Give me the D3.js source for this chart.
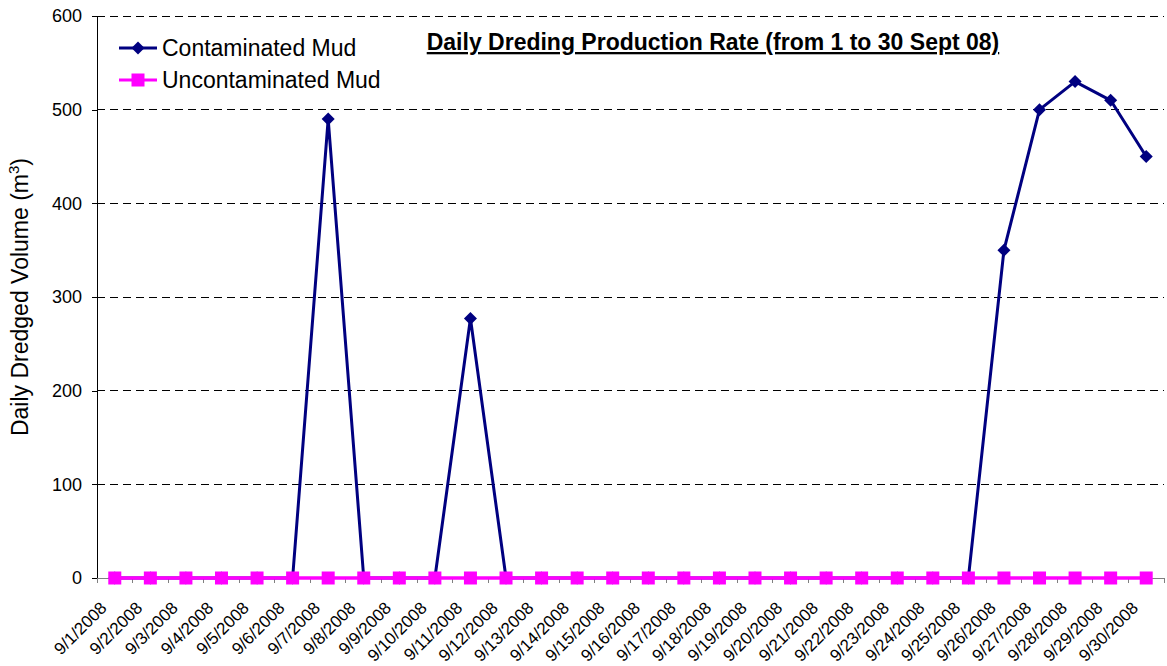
<!doctype html>
<html lang="en">
  <head>
    <title>Daily Dredging Production Rate</title>
    <style>
      body { margin: 0; background: #fff; }
      svg text { font-family: "Liberation Sans", Arial, sans-serif; }
    </style>
  </head>
  <body>
    <div id="chart"></div>
    <script src="https://cdn.jsdelivr.net/npm/d3@7"></script>
    <script>
      const dates = [
        '9/1/2008', '9/2/2008', '9/3/2008', '9/4/2008', '9/5/2008', '9/6/2008',
        '9/7/2008', '9/8/2008', '9/9/2008', '9/10/2008', '9/11/2008', '9/12/2008',
        '9/13/2008', '9/14/2008', '9/15/2008', '9/16/2008', '9/17/2008', '9/18/2008',
        '9/19/2008', '9/20/2008', '9/21/2008', '9/22/2008', '9/23/2008', '9/24/2008',
        '9/25/2008', '9/26/2008', '9/27/2008', '9/28/2008', '9/29/2008', '9/30/2008'
      ]
      const contaminated = [
        0, 0, 0, 0, 0, 0,
        490, 0, 0, 0, 277, 0,
        0, 0, 0, 0, 0, 0,
        0, 0, 0, 0, 0, 0,
        0, 350, 500, 530, 510, 450
      ]
      const uncontaminated = [
        0, 0, 0, 0, 0, 0, 0, 0, 0, 0, 0, 0, 0, 0, 0,
        0, 0, 0, 0, 0, 0, 0, 0, 0, 0, 0, 0, 0, 0, 0
      ]
      const yTicks = [0, 100, 200, 300, 400, 500, 600]

      const width = 1167
      const height = 666
      const margin = { top: 16, right: 3, bottom: 88, left: 97 }
      const font = '"Liberation Sans", Arial, sans-serif'

      const svg = d3.select('#chart')
        .append('svg')
          .attr('width', width)
          .attr('height', height)

      const x = d3.scaleBand()
        .domain(dates)
        .range([margin.left, width - margin.right])

      const y = d3.scaleLinear()
        .domain([0, 600])
        .range([height - margin.bottom, margin.top])

      const cx = d => x(d) + x.bandwidth() / 2

      // gridlines
      svg.append('g')
        .selectAll('line')
        .data(yTicks.filter(t => t > 0))
        .join('line')
          .attr('x1', margin.left)
          .attr('x2', width - margin.right)
          .attr('y1', d => y(d))
          .attr('y2', d => y(d))
          .attr('stroke', '#000')
          .attr('stroke-dasharray', '8,5')
          .attr('shape-rendering', 'crispEdges')

      // y axis
      const yAxis = svg.append('g')
        .attr('transform', `translate(${margin.left},0)`)
        .call(d3.axisLeft(y).tickValues(yTicks).tickSize(5).tickPadding(10))
      yAxis.select('.domain').attr('stroke', '#000').attr('shape-rendering', 'crispEdges')
      yAxis.selectAll('.tick line').attr('shape-rendering', 'crispEdges')
      yAxis.selectAll('text')
        .attr('font-size', 18)
        .attr('fill', '#000')
        .style('font-family', font)

      // x axis
      const xAxis = svg.append('g')
        .attr('transform', `translate(0,${y(0)})`)
        .call(d3.axisBottom(x).tickSize(0).tickPadding(0))
      xAxis.select('.domain').attr('stroke', '#808080').attr('shape-rendering', 'crispEdges')
      xAxis.selectAll('.tick text')
        .attr('font-size', 17)
        .attr('fill', '#000')
        .attr('text-anchor', 'end')
        .attr('dy', 0)
        .attr('transform', 'translate(-7,31) rotate(-45)')
        .style('font-family', font)

      // tick marks at band boundaries
      svg.append('g')
        .selectAll('line')
        .data(d3.range(dates.length + 1))
        .join('line')
          .attr('x1', i => margin.left + i * x.step())
          .attr('x2', i => margin.left + i * x.step())
          .attr('y1', y(0))
          .attr('y2', y(0) + 5)
          .attr('stroke', '#808080')
          .attr('shape-rendering', 'crispEdges')

      // y axis title
      const yTitle = svg.append('text')
        .attr('transform', `translate(28,${(margin.top + y(0)) / 2}) rotate(-90)`)
        .attr('text-anchor', 'middle')
        .attr('font-size', 23)
        .attr('fill', '#000')
      yTitle.append('tspan').text('Daily Dredged Volume (m')
      yTitle.append('tspan').attr('font-size', 15).attr('dy', -9).text('3')
      yTitle.append('tspan').attr('dy', 9).text(')')

      // series
      const line = d3.line()
        .x((d, i) => cx(dates[i]))
        .y(d => y(d))

      svg.append('path')
        .datum(contaminated)
        .attr('fill', 'none')
        .attr('stroke', '#000080')
        .attr('stroke-width', 3)
        .attr('stroke-linejoin', 'round')
        .attr('d', line)

      svg.append('g')
        .selectAll('path')
        .data(contaminated)
        .join('path')
          .attr('d', d3.symbol(d3.symbolSquare, 85))
          .attr('transform', (d, i) => `translate(${cx(dates[i])},${y(d)}) rotate(45)`)
          .attr('fill', '#000080')

      svg.append('path')
        .datum(uncontaminated)
        .attr('fill', 'none')
        .attr('stroke', '#ff00ff')
        .attr('stroke-width', 3.5)
        .attr('d', line)

      svg.append('g')
        .selectAll('rect')
        .data(uncontaminated)
        .join('rect')
          .attr('x', (d, i) => cx(dates[i]) - 6.5)
          .attr('y', d => y(d) - 6.5)
          .attr('width', 13)
          .attr('height', 13)
          .attr('fill', '#ff00ff')

      // legend
      const legend = svg.append('g').attr('transform', 'translate(119,48)')
      const items = [
        { name: 'Contaminated Mud', color: '#000080', marker: 'diamond' },
        { name: 'Uncontaminated Mud', color: '#ff00ff', marker: 'square' }
      ]
      items.forEach((it, i) => {
        const g = legend.append('g').attr('transform', `translate(0,${i * 32})`)
        g.append('line')
          .attr('x1', 0).attr('x2', 38)
          .attr('stroke', it.color)
          .attr('stroke-width', 3)
        if (it.marker === 'diamond') {
          g.append('path')
            .attr('d', d3.symbol(d3.symbolSquare, 85))
            .attr('transform', 'translate(19,0) rotate(45)')
            .attr('fill', it.color)
        } else {
          g.append('rect')
            .attr('x', 12.5).attr('y', -6.5).attr('width', 13).attr('height', 13)
            .attr('fill', it.color)
        }
        g.append('text')
          .attr('x', 43)
          .attr('dy', '0.35em')
          .attr('font-size', 23)
          .attr('fill', '#000')
          .text(it.name)
      })

      // title
      svg.append('text')
        .attr('x', 713)
        .attr('y', 50)
        .attr('text-anchor', 'middle')
        .attr('font-size', 23)
        .attr('font-weight', 'bold')
        .attr('text-decoration', 'underline')
        .attr('fill', '#000')
        .text('Daily Dreding Production Rate (from 1 to 30 Sept 08)')
    </script>
  </body>
</html>
